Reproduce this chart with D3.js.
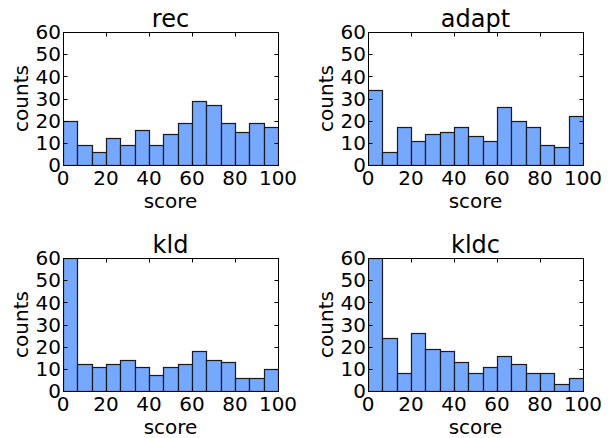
<!DOCTYPE html>
<html>
<head>
<meta charset="utf-8">
<script src="https://cdn.jsdelivr.net/npm/d3@7"></script>
<style>
  html, body { margin: 0; padding: 0; background: #fff; }
  svg { display: block; }
  text { font-family: "DejaVu Sans", sans-serif; fill: #000; }
</style>
</head>
<body>
<svg id="chart" width="612" height="438"></svg>
<script>
// Histogram bin edges: 15 equal bins on [0, 100]
const binCount = 15;
const xDomain = [0, 100];
const yDomain = [0, 60];
const xTicks = [0, 20, 40, 60, 80, 100];
const yTicks = [0, 10, 20, 30, 40, 50, 60];

const titles = ["rec", "adapt", "kld", "kldc"];
const recCounts   = [20, 9, 6, 12, 9, 16, 9, 14, 19, 29, 27, 19, 15, 19, 17];
const adaptCounts = [34, 6, 17, 11, 14, 15, 17, 13, 11, 26, 20, 17, 9, 8, 22];
const kldCounts   = [60, 12, 11, 12, 14, 11, 7, 11, 12, 18, 14, 13, 6, 6, 10];
const kldcCounts  = [60, 24, 8, 26, 19, 18, 13, 8, 11, 16, 12, 8, 8, 3, 6];
const seriesCounts = [recCounts, adaptCounts, kldCounts, kldcCounts];

const xLabel = "score";
const yLabel = "counts";

const svg = d3.select("#chart");
const panels = [
  { x0: 63, x1: 368 === 0 ? 0 : 278, y0: 32, y1: 165 },
  { x0: 368, x1: 583, y0: 32, y1: 165 },
  { x0: 63, x1: 278, y0: 258, y1: 391 },
  { x0: 368, x1: 583, y0: 258, y1: 391 }
];
const fill = "#75a8ff";
const edge = "#1a1a1a";
const tickLen = 4;

panels.forEach((p, i) => {
  const counts = seriesCounts[i];
  const x = d3.scaleLinear().domain(xDomain).range([p.x0, p.x1]);
  const y = d3.scaleLinear().domain(yDomain).range([p.y1, p.y0]);
  const binW = (xDomain[1] - xDomain[0]) / binCount;
  const bins = counts.map((c, k) => ({ a: xDomain[0] + k * binW, b: xDomain[0] + (k + 1) * binW, c }));

  const g = svg.append("g");
  const clipId = "clip" + i;
  svg.append("clipPath").attr("id", clipId)
    .append("rect").attr("x", p.x0).attr("y", p.y0).attr("width", p.x1 - p.x0).attr("height", p.y1 - p.y0);

  g.append("g").attr("clip-path", `url(#${clipId})`)
    .selectAll("rect").data(bins).join("rect")
    .attr("x", d => Math.round(x(d.a)) + 0.5)
    .attr("y", d => Math.round(y(d.c)) + 0.5)
    .attr("width", d => Math.round(x(d.b)) - Math.round(x(d.a)))
    .attr("height", d => Math.round(y(0)) - Math.round(y(d.c)))
    .attr("fill", fill)
    .attr("stroke", edge)
    .attr("stroke-width", 1.2);

  // frame
  g.append("rect")
    .attr("x", p.x0 + 0.5).attr("y", p.y0 + 0.5)
    .attr("width", p.x1 - p.x0).attr("height", p.y1 - p.y0)
    .attr("fill", "none").attr("stroke", "#000").attr("stroke-width", 1);

  // inward ticks on all four sides
  const tg = g.append("g").attr("stroke", "#000").attr("stroke-width", 1);
  xTicks.forEach(t => {
    const xx = Math.round(x(t)) + 0.5;
    tg.append("line").attr("x1", xx).attr("x2", xx).attr("y1", p.y1 + 0.5).attr("y2", p.y1 + 0.5 - tickLen);
    tg.append("line").attr("x1", xx).attr("x2", xx).attr("y1", p.y0 + 0.5).attr("y2", p.y0 + 0.5 + tickLen);
  });
  yTicks.forEach(t => {
    const yy = Math.round(y(t)) + 0.5;
    tg.append("line").attr("x1", p.x0 + 0.5).attr("x2", p.x0 + 0.5 + tickLen).attr("y1", yy).attr("y2", yy);
    tg.append("line").attr("x1", p.x1 + 0.5).attr("x2", p.x1 + 0.5 - tickLen).attr("y1", yy).attr("y2", yy);
  });

  // tick labels
  g.append("g").selectAll("text").data(xTicks).join("text")
    .attr("x", d => x(d)).attr("y", p.y1 + 20)
    .attr("text-anchor", "middle").attr("font-size", 20)
    .text(d => d);
  g.append("g").selectAll("text").data(yTicks).join("text")
    .attr("x", p.x0 - 2).attr("y", d => y(d) + 7.3)
    .attr("text-anchor", "end").attr("font-size", 20)
    .text(d => d);

  // axis labels
  g.append("text")
    .attr("x", (p.x0 + p.x1) / 2).attr("y", p.y1 + 43)
    .attr("text-anchor", "middle").attr("font-size", 20)
    .text(xLabel);
  g.append("text")
    .attr("transform", `translate(${p.x0 - 35},${(p.y0 + p.y1) / 2}) rotate(-90)`)
    .attr("text-anchor", "middle").attr("font-size", 20)
    .text(yLabel);

  // title
  g.append("text")
    .attr("x", (p.x0 + p.x1) / 2).attr("y", p.y0 - 5)
    .attr("text-anchor", "middle").attr("font-size", 24)
    .text(titles[i]);
});
</script>
</body>
</html>
